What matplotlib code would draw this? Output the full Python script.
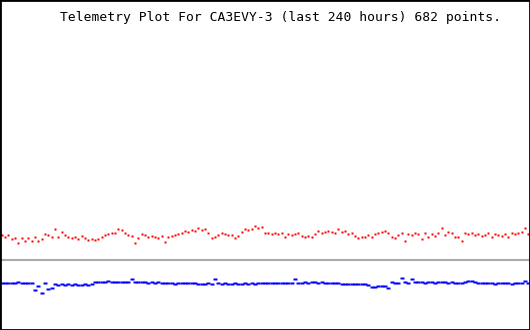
import matplotlib
matplotlib.use('Agg')
import matplotlib.pyplot as plt
import numpy as np

title = "Telemetry Plot For CA3EVY-3 (last 240 hours) 682 points."

red_trace = [
    235, 236.7, 235, 239, 238, 243, 238, 240.7, 237.7, 240.7,
    236.7, 240.7, 239, 234, 235, 236.7, 229, 236.7, 231.7, 235,
    236.7, 238, 236.7, 239, 236, 238, 240, 239, 240, 239,
    236.7, 235, 234, 233.3, 232.7, 229, 230, 232.7, 235, 236,
    242.7, 238, 234, 235, 236.7, 236, 236.7, 238, 236, 241.7,
    236.7, 236, 235, 234, 233.3, 230.7, 231.7, 230, 230.7, 228.3,
    230, 229.3, 233.3, 238.3, 236.7, 235, 233.3, 234, 235, 235,
    238.3, 236, 231.7, 229.3, 230, 229.3, 226, 228.3, 226.7, 233.3,
    232.7, 234, 233.3, 234, 233.3, 237.3, 234, 235, 234, 233.3,
    236, 236.7, 236, 236.7, 234, 230.7, 233.3, 231.7, 230.7, 231.7,
    233.3, 229.3, 231.7, 230.7, 234, 232.7, 236, 238.3, 236.7, 237.3,
    235, 236.7, 234, 232.7, 231.7, 230.7, 232.7, 236.7, 238.3, 235,
    232.7, 240.7, 234, 235, 232.7, 234, 239.3, 233.3, 236.7, 234,
    236, 233.3, 228.3, 235, 231.7, 233.3, 237.3, 236.7, 240.7, 233.3,
    234, 232.7, 235, 234, 236, 235, 233.3, 236.7, 234, 235,
    236, 234, 236.7, 233.3, 234, 232.7, 231.7, 228.3, 234,
]

blue_trace = [
    282.5, 282.5, 283, 282.5, 282.5, 282, 282.5, 283, 282.5, 283,
    290, 286, 292.7, 282.5, 289, 288, 284, 284.5, 284, 284.5,
    284, 284.5, 284, 284.5, 284.5, 284, 284.5, 283.5, 282, 281.5,
    281.5, 281.7, 281, 281.5, 282, 281.5, 281.7, 282, 281.5, 279,
    281.5, 281.7, 282, 281.7, 282.5, 282.3, 282.7, 282.3, 282.5, 283.3,
    283.3, 283, 283.5, 283.3, 282.5, 283.3, 283.3, 283, 283.3, 283.5,
    283.6, 283.6, 283.3, 283.6, 278.7, 283.3, 283.6, 283.3, 284, 283.6,
    283.3, 284, 283.6, 283.3, 283.6, 283.3, 284, 283.3, 282.7, 283,
    282.7, 283, 282.7, 282.5, 283, 282.7, 283, 282.7, 279, 282.7,
    282.5, 282.3, 283, 282.3, 282, 282.7, 282.3, 283, 282.7, 282.7,
    283, 282.7, 284, 283.7, 284, 284.3, 284, 284, 284.3, 284,
    285, 287.3, 287, 286, 285.5, 286, 287.7, 282.3, 283.3, 283.3,
    277.7, 282.3, 282.7, 279, 282.3, 282, 282.3, 282.7, 282.3, 282.3,
    282.7, 282.3, 282, 282.3, 282.7, 282.3, 282.7, 283.3, 282.7, 282.3,
    281, 280.7, 282.3, 283.3, 283.3, 283, 283.3, 283.3, 283.7, 283.3,
    283, 283.3, 283.3, 283.7, 283.3, 283, 283.3, 280.7, 282.5,
]

divider = 260

fig = plt.figure(figsize=(5.3, 3.3), dpi=100)
ax = fig.add_axes([0, 0, 1, 1])

x_red = np.linspace(1.7, 528.3, len(red_trace))
x_blue = np.linspace(1.7, 528.3, len(blue_trace))

ax.axhline(divider, color='#aaaaaa', lw=1.5)

ax.plot(x_red, red_trace, ls='none', marker='s', ms=1.8,
        mfc='#ff0000', mec='none')

# wide flat marker so the blue trace reads as a band
flat = [(-2, -1), (2, -1), (2, 1), (-2, 1), (-2, -1)]
ax.plot(x_blue, blue_trace, ls='none', marker=flat, ms=2.9,
        mfc='#0000ff', mec='none')

ax.set_xlim(0, 530)
ax.set_ylim(330, 0)
ax.set_xticks([])
ax.set_yticks([])
for s in ax.spines.values():
    s.set_linewidth(2)
    s.set_color('black')

ax.text(60, 17, title, family='DejaVu Sans Mono', fontsize=9.4,
        ha='left', va='center', color='black')

fig.savefig('out.png', dpi=100)
